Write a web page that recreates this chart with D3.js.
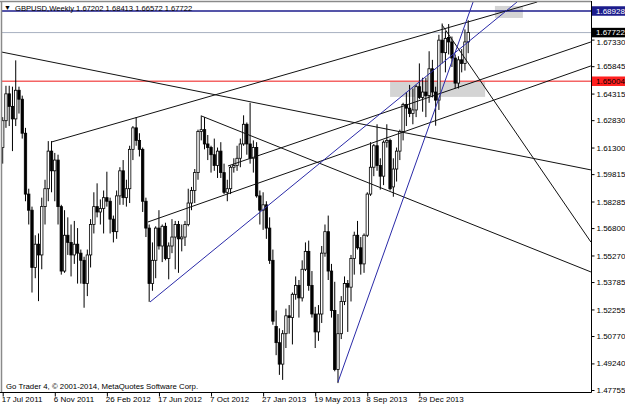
<!DOCTYPE html>
<html><head><meta charset="utf-8">
<script src="https://cdn.jsdelivr.net/npm/d3@7"></script>
<style>
body{margin:0;background:#fff}
svg{display:block}
text{font-family:"Liberation Sans",Arial,sans-serif;}
</style>
</head><body>
<svg id="c" width="625" height="407"></svg>
<script>
// ---- data (weekly GBPUSD, bar 0 = week of 17 Jul 2011) ----
const opens = [1.6130,1.6280,1.6430,1.6360,1.6290,1.6450,1.6400,1.6210,1.5870,1.5780,1.5460,1.5590,1.5530,1.5800,1.5900,1.6110,1.6000,1.6060,1.5800,1.5440,
1.5640,1.5600,1.5530,1.5590,1.5540,1.5500,1.5370,1.5530,1.5700,1.5800,1.5770,1.5790,1.5850,1.5830,1.5730,1.5660,1.5860,1.6000,1.5850,1.5900,
1.6120,1.6240,1.6170,1.6120,1.5830,1.5680,1.5370,1.5500,1.5680,1.5580,1.5690,1.5510,1.5580,1.5630,1.5700,1.5620,1.5630,1.5700,1.5820,1.5890,
1.5990,1.6220,1.6230,1.6150,1.6130,1.6090,1.6030,1.6110,1.5990,1.5880,1.5900,1.6020,1.6030,1.6070,1.6150,1.6260,1.6150,1.6070,1.6130,1.5860,
1.5780,1.5810,1.5680,1.5500,1.5130,1.5040,1.4920,1.5090,1.5190,1.5180,1.5310,1.5360,1.5290,1.5450,1.5550,1.5360,1.5200,1.5100,1.5200,1.5540,
1.5660,1.5440,1.5220,1.4890,1.5090,1.5270,1.5370,1.5350,1.5510,1.5640,1.5570,1.5480,1.5640,1.5870,1.6020,1.6140,1.6030,1.5970,1.6160,1.6170,
1.5910,1.6010,1.6110,1.6220,1.6370,1.6350,1.6320,1.6340,1.6470,1.6410,1.6440,1.6420,1.6570,1.6440,1.6395,1.6730,1.6660,1.6745,1.6720,1.6630,
1.6490,1.6620,1.6600,1.67202];
const highs = [1.6300,1.6475,1.6475,1.6470,1.6617,1.6470,1.6420,1.6240,1.5900,1.5800,1.5640,1.5650,1.5850,1.5950,1.6166,1.6166,1.6100,1.6090,1.5810,1.5780,
1.5740,1.5700,1.5720,1.5680,1.5560,1.5520,1.5560,1.5730,1.5880,1.5930,1.5840,1.5890,1.5995,1.5850,1.5750,1.5890,1.6020,1.6060,1.5950,1.6140,
1.6250,1.6300,1.6210,1.6130,1.5850,1.5700,1.5600,1.5690,1.5780,1.5700,1.5710,1.5600,1.5730,1.5720,1.5720,1.5700,1.5720,1.5900,1.5910,1.6010,
1.6230,1.6309,1.6300,1.6200,1.6140,1.6180,1.6130,1.6160,1.6040,1.5950,1.6030,1.6070,1.6140,1.6180,1.6310,1.6270,1.6380,1.6170,1.6160,1.5890,
1.5880,1.5830,1.5740,1.5560,1.5220,1.5120,1.5110,1.5230,1.5250,1.5320,1.5410,1.5390,1.5500,1.5600,1.5610,1.5440,1.5240,1.5250,1.5580,1.5700,
1.5750,1.5480,1.5380,1.5200,1.5300,1.5410,1.5390,1.5530,1.5660,1.5720,1.5630,1.5650,1.5880,1.6160,1.6150,1.6260,1.6070,1.6170,1.6260,1.6180,
1.6070,1.6130,1.6230,1.6380,1.6440,1.6480,1.6460,1.6480,1.6600,1.6520,1.6520,1.6668,1.6620,1.6470,1.6760,1.6823,1.6780,1.6820,1.6750,1.6650,
1.6640,1.6680,1.6790,1.68413];
const lows = [1.6040,1.6240,1.6250,1.6110,1.6250,1.6320,1.6180,1.5830,1.5700,1.5320,1.5400,1.5272,1.5450,1.5700,1.5830,1.5880,1.5830,1.5700,1.5420,1.5430,
1.5530,1.5410,1.5480,1.5370,1.5370,1.5235,1.5300,1.5460,1.5650,1.5740,1.5700,1.5650,1.5800,1.5650,1.5600,1.5620,1.5810,1.5810,1.5800,1.5820,
1.6060,1.6140,1.6080,1.5770,1.5630,1.5268,1.5330,1.5400,1.5560,1.5490,1.5500,1.5394,1.5540,1.5450,1.5430,1.5550,1.5580,1.5690,1.5780,1.5820,
1.5950,1.6170,1.6120,1.6060,1.5990,1.6000,1.5960,1.5960,1.5870,1.5830,1.5870,1.5990,1.6000,1.6020,1.6140,1.6090,1.6040,1.5990,1.5850,1.5700,
1.5670,1.5620,1.5480,1.5140,1.4970,1.4860,1.4832,1.5010,1.5090,1.5030,1.5280,1.5180,1.5270,1.5440,1.5330,1.5180,1.5010,1.5050,1.5150,1.5520,
1.5390,1.5180,1.4880,1.4814,1.5060,1.5250,1.5100,1.5270,1.5420,1.5560,1.5420,1.5430,1.5630,1.5860,1.5970,1.6000,1.5895,1.5920,1.6130,1.5890,
1.5855,1.5940,1.6060,1.6170,1.6250,1.6300,1.6260,1.6300,1.6400,1.6330,1.6300,1.6380,1.6410,1.6252,1.6340,1.6600,1.6550,1.6650,1.6580,1.6460,
1.6460,1.6550,1.6560,1.66572];
const closes = [1.6280,1.6430,1.6360,1.6290,1.6450,1.6400,1.6210,1.5870,1.5780,1.5460,1.5590,1.5530,1.5800,1.5900,1.6110,1.6000,1.6060,1.5800,1.5440,1.5640,
1.5600,1.5530,1.5590,1.5540,1.5500,1.5370,1.5530,1.5700,1.5800,1.5770,1.5790,1.5850,1.5830,1.5730,1.5660,1.5860,1.6000,1.5850,1.5900,1.6120,
1.6240,1.6170,1.6120,1.5830,1.5680,1.5370,1.5500,1.5680,1.5580,1.5690,1.5510,1.5580,1.5630,1.5700,1.5620,1.5630,1.5700,1.5820,1.5890,1.5990,
1.6220,1.6230,1.6150,1.6130,1.6090,1.6030,1.6110,1.5990,1.5880,1.5900,1.6020,1.6030,1.6070,1.6150,1.6260,1.6150,1.6070,1.6130,1.5860,1.5780,
1.5810,1.5680,1.5500,1.5160,1.5040,1.4920,1.5090,1.5190,1.5180,1.5310,1.5360,1.5290,1.5450,1.5550,1.5360,1.5200,1.5100,1.5200,1.5540,1.5660,
1.5440,1.5220,1.4890,1.5090,1.5270,1.5370,1.5350,1.5510,1.5640,1.5570,1.5480,1.5640,1.5870,1.6020,1.6140,1.6030,1.5970,1.6160,1.6170,1.5900,
1.6010,1.6110,1.6220,1.6370,1.6350,1.6320,1.6340,1.6470,1.6410,1.6440,1.6420,1.6570,1.6440,1.6395,1.6730,1.6660,1.6740,1.6720,1.6630,1.6490,
1.6620,1.6600,1.6720,1.67722];

const xTickIdx = [0,16,32,48,64,80,96,112,128];
const xTickLabels = ["17 Jul 2011","6 Nov 2011","26 Feb 2012","17 Jun 2012","7 Oct 2012","27 Jan 2013","19 May 2013","8 Sep 2013","29 Dec 2013"];
const yTicks = [1.67330,1.65845,1.64315,1.62830,1.61300,1.59815,1.58285,1.56800,1.55270,1.53785,1.52255,1.50770,1.49240,1.47755];

// trend lines: [bar1, price1, bar2, price2]
const blackLines = [
  [-1, 1.6666, 180.7, 1.6005],
  [15.0, 1.6161, 164.2, 1.6943],
  [44.6, 1.5714, 180.7, 1.6586],
  [69.2, 1.6027, 180.7, 1.6720],
  [61.1, 1.6306, 180.7, 1.5435],
  [135.0, 1.6814, 180.7, 1.5602]
];
const blueLines = [
  [45.25, 1.5267, 158.0, 1.6943],
  [103.0, 1.4820, 144.5, 1.6943]
];
const hLines = [
  {p:1.68928, color:"#1c1c8c", w:1.5, label:"1.68928", bg:"#1c1c8c", fg:"#ffffff"},
  {p:1.67722, color:"#a8b0c0", w:1, label:"1.67722", bg:"#000000", fg:"#ffffff"},
  {p:1.65004, color:"#f46464", w:1.5, label:"1.65004", bg:"#ff2020", fg:"#000000"}
];
const boxes = [
  [119.0, 1.6500, 148.2, 1.6413],
  [151.2, 1.6921, 159.8, 1.6854]
];

// ---- drawing ----
const svg = d3.select("#c");
const P = {l:2, r:591, t:2, b:392};
const x = d3.scaleLinear().domain([0,143]).range([2.7,468.2]);
const y = d3.scaleLinear().domain([1.47755,1.68928]).range([390,11]);

svg.append("rect").attr("width",625).attr("height",407).attr("fill","#fff");
svg.append("clipPath").attr("id","clip").append("rect")
  .attr("x",P.l).attr("y",P.t).attr("width",P.r-P.l).attr("height",P.b-P.t);
const g = svg.append("g").attr("clip-path","url(#clip)");

// boxes (background)
g.selectAll("rect.box").data(boxes).enter().append("rect")
  .attr("x",d=>x(d[0])).attr("y",d=>y(d[1]))
  .attr("width",d=>x(d[2])-x(d[0])).attr("height",d=>y(d[3])-y(d[1]))
  .attr("fill","#d4d4d4");

// horizontal lines
g.selectAll("line.h").data(hLines).enter().append("line")
  .attr("x1",P.l).attr("x2",P.r).attr("y1",d=>y(d.p)).attr("y2",d=>y(d.p))
  .attr("stroke",d=>d.color).attr("stroke-width",d=>d.w);

// candles
const idx = d3.range(opens.length);
const bw = 2.4;
g.selectAll("line.wick").data(idx).enter().append("line")
  .attr("x1",i=>x(i)).attr("x2",i=>x(i))
  .attr("y1",i=>y(highs[i])).attr("y2",i=>y(lows[i]))
  .attr("stroke","#000").attr("stroke-width",1);
g.selectAll("rect.body").data(idx).enter().append("rect")
  .attr("x",i=>x(i)-bw/2)
  .attr("y",i=>y(Math.max(opens[i],closes[i])))
  .attr("width",bw)
  .attr("height",i=>Math.max(0.8,Math.abs(y(opens[i])-y(closes[i]))))
  .attr("fill",i=>closes[i]>=opens[i]?"#fff":"#000")
  .attr("stroke","#000").attr("stroke-width",0.8);

// trend lines
g.selectAll("line.tb").data(blackLines).enter().append("line")
  .attr("x1",d=>x(d[0])).attr("y1",d=>y(d[1])).attr("x2",d=>x(d[2])).attr("y2",d=>y(d[3]))
  .attr("stroke","#111").attr("stroke-width",1);
g.selectAll("line.tbl").data(blueLines).enter().append("line")
  .attr("x1",d=>x(d[0])).attr("y1",d=>y(d[1])).attr("x2",d=>x(d[2])).attr("y2",d=>y(d[3]))
  .attr("stroke","#2a2aa8").attr("stroke-width",1);

// frame
svg.append("line").attr("x1",0).attr("x2",P.r).attr("y1",1.5).attr("y2",1.5).attr("stroke","#8a8a8a").attr("stroke-width",1.5);
svg.append("line").attr("x1",1.5).attr("x2",1.5).attr("y1",1).attr("y2",P.b).attr("stroke","#8a8a8a").attr("stroke-width",1.5);
svg.append("line").attr("x1",P.r+0.5).attr("x2",P.r+0.5).attr("y1",1).attr("y2",P.b+0.5).attr("stroke","#000");
svg.append("line").attr("x1",0).attr("x2",P.r+0.5).attr("y1",P.b+0.5).attr("y2",P.b+0.5).attr("stroke","#000");

// right axis
const ya = d3.axisRight(y).tickValues(yTicks).tickFormat(d3.format(".5f")).tickSize(3).tickPadding(2).tickSizeOuter(0);
const yag = svg.append("g").attr("transform",`translate(${P.r+0.5},0)`).call(ya);
yag.select(".domain").remove();
yag.selectAll("text").attr("font-size","8px").attr("fill","#000").attr("font-family","Liberation Sans, Arial, sans-serif");
yag.selectAll("line").attr("stroke","#000");
// the tick label hidden behind the bid box sits a little lower, as in the reference
yag.selectAll(".tick").filter(d=>d===1.67330).select("text").attr("dy","0.55em");

// price labels
const lab = svg.selectAll("g.lab").data(hLines).enter().append("g");
lab.append("rect").attr("x",P.r+1).attr("y",d=>y(d.p)-4.75).attr("width",34).attr("height",9.5).attr("fill",d=>d.bg);
lab.append("text").attr("x",P.r+5).attr("y",d=>y(d.p)+2.9).attr("font-size","8px").attr("fill",d=>d.fg).text(d=>d.label);

// bottom axis
const xa = d3.axisBottom(x).tickValues(xTickIdx).tickFormat((d,i)=>xTickLabels[i]).tickSize(4).tickSizeOuter(0);
const xag = svg.append("g").attr("transform",`translate(0,${P.b+0.5})`).call(xa);
xag.select(".domain").remove();
xag.selectAll("line").attr("stroke","#000");
xag.selectAll("text").attr("text-anchor","start").attr("dx","-1.5").attr("dy","0.25em")
  .attr("font-size","8px").attr("fill","#000").attr("font-family","Liberation Sans, Arial, sans-serif");

// title & copyright
svg.append("text").attr("x",4).attr("y",10).attr("font-size","7px").attr("font-family","DejaVu Sans, sans-serif").text("▼");
svg.append("text").attr("x",15).attr("y",11).attr("font-size","7.6px").attr("fill","#000")
  .text("GBPUSD,Weekly  1.67202 1.68413 1.66572 1.67722");
svg.append("text").attr("x",6).attr("y",389).attr("font-size","7.8px").attr("fill","#000")
  .text("Go Trader 4, © 2001-2014, MetaQuotes Software Corp.");
</script>
</body></html>
